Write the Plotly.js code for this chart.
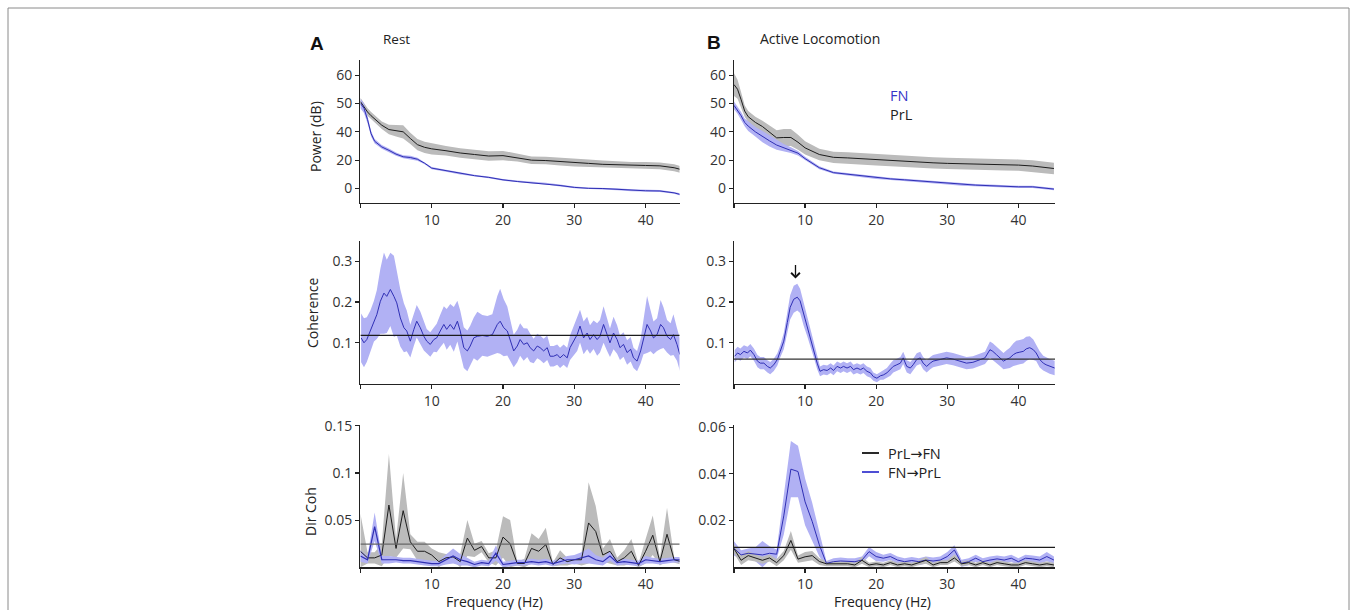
<!DOCTYPE html>
<html>
<head>
<meta charset="utf-8">
<script src="https://cdn.plot.ly/plotly-3.0.1.min.js"></script>
<style>html,body{margin:0;padding:0;background:#fff;}#chart{width:1357px;height:610px;}</style>
</head>
<body>
<div id="chart"></div>
<script>
// ---------- DATA ----------
// Power panels: values in the axis' plotted units (tick labels below are what the figure prints)
const POW_FREQ = [0,0.5,1,1.5,2,3,4,5,6,7,8,9,10,12,14,16,18,20,22,24,26,28,30,32,34,36,38,40,42,44,45];
const POW_A_PRL = [46,43,40.5,38.5,37,33.5,31.2,30.5,30,26.5,23.2,21.8,21,20,18.8,18,17.2,17.4,16.3,15,14.8,14.2,13.6,13.3,12.8,12.5,12.2,12.2,12,11,10];
const POW_A_PRL_ERR = [2,2,2,2,2,2,2.5,3,3.5,3,3,3,3,2.5,2.5,2.5,2.5,2.5,2,2,2,2,2,2,2,1.8,1.8,1.8,1.8,1.8,1.8];
const POW_A_FN = [45,42.5,36.5,29,25,22,20.2,18.2,16.8,16.4,15.5,13.4,10.8,9.4,7.9,6.8,5.9,4.6,3.7,3.1,2.6,1.6,0.6,0.1,0,-0.4,-0.9,-1.2,-1.3,-2.3,-3.3];
const POW_A_FN_ERR = [2.5,2.5,2,1.5,1.2,1,1,0.8,0.8,1,0.8,0.6,0.6,0.5,0.5,0.5,0.5,0.5,0.5,0.5,0.5,0.5,0.5,0.5,0.5,0.5,0.5,0.5,0.5,0.5,0.6];
const POW_B_PRL = [55,52.5,47,41,38,35,32.8,30,26.8,27,27,24.5,21.5,18,16.5,16.2,15.7,15.2,14.8,14.5,14.1,13.6,13.3,13.2,12.9,12.7,12.6,12.4,11.9,11,10.6];
const POW_B_PRL_ERR = [6,5,4,3,3,3,3,3.5,4,4.5,4.5,4,3.5,3,3,3,3,3,3,3,3,3,3,3,3,3,3,3,3,3,3];
const POW_B_FN = [44,41.5,38.5,35,33,30,27.5,25.2,23,21.5,20.3,18.7,15.8,11,8.4,7.6,6.5,5.7,5.1,4.6,4,3.2,2.7,2.1,1.8,1.5,1.1,0.9,0.9,0.2,-0.3];
const POW_B_FN_ERR = [2,2,2,2,2.5,2.5,3,3,2.5,2,1.5,1.2,1,0.8,0.6,0.6,0.6,0.6,0.6,0.6,0.6,0.6,0.6,0.6,0.6,0.6,0.6,0.6,0.6,0.6,0.6];
const POW_TICK_POS = [0,15,30,45,60];
const POW_TICK_TEXT = ['0','20','40','50','60'];

// Coherence, Rest
const COH_A_FREQ = [0.1,0.5,0.9,1.4,1.9,2.3,2.8,3.3,3.7,4.2,
  4.7,5.1,5.6,6.1,6.5,7.0,7.5,7.9,8.4,8.9,
  9.3,9.8,10.3,10.7,11.2,11.7,12.1,12.6,13.1,13.6,
  14.0,14.5,15.0,15.4,15.9,16.4,17.1,17.8,18.5,19.2,
  19.6,20.1,20.6,21.0,21.5,22.0,22.4,22.9,23.4,23.8,
  24.3,24.8,25.2,25.7,26.2,26.6,27.1,27.6,28.0,28.5,
  29.0,29.4,29.9,30.4,30.8,31.3,31.8,32.2,32.7,33.2,
  33.6,34.1,34.6,35.0,35.5,36.0,36.4,36.9,37.4,37.9,
  38.3,38.8,39.3,39.7,40.2,40.7,41.1,41.6,42.1,42.5,
  43.0,43.5,43.9,44.4,44.8];
const COH_A = [0.112,0.100,0.108,0.129,0.153,0.169,0.202,0.222,0.214,0.231,
  0.214,0.198,0.161,0.137,0.129,0.104,0.133,0.153,0.137,0.116,
  0.104,0.096,0.108,0.112,0.129,0.145,0.133,0.145,0.133,0.153,
  0.129,0.088,0.080,0.092,0.112,0.116,0.118,0.116,0.120,0.145,
  0.153,0.137,0.129,0.108,0.080,0.092,0.108,0.096,0.100,0.088,
  0.080,0.092,0.088,0.080,0.088,0.067,0.067,0.071,0.063,0.071,
  0.063,0.088,0.104,0.120,0.141,0.112,0.124,0.108,0.120,0.108,
  0.116,0.145,0.120,0.100,0.124,0.108,0.088,0.096,0.076,0.084,
  0.063,0.055,0.080,0.112,0.145,0.129,0.112,0.120,0.145,0.137,
  0.116,0.108,0.120,0.096,0.071];
const COH_A_ERR = [0.06,0.06,0.055,0.05,0.05,0.06,0.08,0.1,0.09,0.09,
  0.1,0.08,0.07,0.06,0.05,0.04,0.04,0.04,0.04,0.035,
  0.03,0.03,0.03,0.035,0.04,0.045,0.05,0.05,0.055,0.05,
  0.05,0.05,0.05,0.05,0.05,0.06,0.05,0.05,0.05,0.07,
  0.08,0.07,0.06,0.05,0.04,0.04,0.04,0.04,0.035,0.035,
  0.03,0.03,0.03,0.03,0.03,0.025,0.025,0.025,0.025,0.025,
  0.025,0.03,0.035,0.04,0.04,0.04,0.04,0.035,0.035,0.04,
  0.04,0.045,0.04,0.035,0.04,0.035,0.03,0.03,0.03,0.03,
  0.025,0.025,0.03,0.04,0.07,0.05,0.04,0.04,0.06,0.05,
  0.04,0.04,0.05,0.04,0.04];
const COH_A_THR = 0.118;

// Coherence, Active Locomotion
const COH_B_FREQ = [0.1,0.5,0.9,1.4,1.9,2.3,2.8,3.3,3.7,4.2,
  4.7,5.1,5.6,6.1,6.5,7.0,7.5,7.9,8.4,8.9,
  9.3,9.8,10.3,10.7,11.2,11.7,12.1,12.6,13.1,13.6,
  14.0,14.5,15.0,15.4,15.9,16.4,16.8,17.3,17.8,18.2,
  18.7,19.2,19.6,20.1,20.6,21.0,21.5,22.0,22.4,22.9,
  23.4,23.8,24.3,24.8,25.2,25.7,26.2,26.6,27.1,27.6,
  28.0,29.0,29.9,30.8,31.8,32.7,33.6,34.6,35.3,36.0,
  36.4,36.9,37.4,37.9,38.3,38.8,39.3,39.7,40.2,40.7,
  41.1,41.6,42.1,42.5,43.0,43.5,43.9,44.4,45.1];
const COH_B = [0.067,0.075,0.071,0.079,0.075,0.082,0.071,0.055,0.050,0.050,
  0.042,0.038,0.046,0.059,0.079,0.104,0.150,0.187,0.207,0.212,
  0.203,0.170,0.141,0.117,0.083,0.050,0.030,0.034,0.032,0.038,
  0.032,0.042,0.038,0.042,0.038,0.042,0.034,0.038,0.034,0.038,
  0.030,0.026,0.017,0.013,0.019,0.021,0.026,0.034,0.042,0.046,
  0.050,0.063,0.042,0.038,0.046,0.059,0.063,0.050,0.042,0.050,
  0.055,0.059,0.063,0.060,0.055,0.050,0.052,0.059,0.063,0.083,
  0.079,0.071,0.063,0.055,0.059,0.063,0.071,0.075,0.077,0.079,
  0.085,0.088,0.083,0.075,0.059,0.050,0.046,0.042,0.038];
const COH_B_ERR = [0.015,0.015,0.015,0.015,0.015,0.015,0.015,0.015,0.015,0.015,
  0.015,0.015,0.015,0.015,0.015,0.02,0.025,0.03,0.033,0.033,
  0.03,0.028,0.025,0.02,0.018,0.015,0.012,0.012,0.012,0.012,
  0.012,0.012,0.012,0.012,0.012,0.012,0.012,0.012,0.012,0.012,
  0.012,0.012,0.01,0.01,0.01,0.012,0.012,0.015,0.015,0.015,
  0.015,0.015,0.015,0.015,0.015,0.015,0.015,0.015,0.015,0.015,
  0.015,0.015,0.015,0.015,0.015,0.015,0.015,0.015,0.015,0.02,
  0.02,0.02,0.02,0.02,0.022,0.025,0.028,0.03,0.03,0.03,
  0.03,0.028,0.025,0.02,0.02,0.018,0.018,0.018,0.018];
const COH_B_THR = 0.06;

// Directed coherence (1 Hz bins)
const DIR_FREQ = [0,1,2,3,4,5,6,7,8,9,10,11,12,13,14,15,16,17,18,19,20,21,22,23,24,25,26,27,28,29,30,31,32,33,34,35,36,37,38,39,40,41,42,43,44,45];
const DIR_A_PRL_FN = [0.017,0.010,0.010,0.013,0.066,0.020,0.060,0.027,0.017,0.017,
  0.013,0.006,0.010,0.011,0.006,0.031,0.018,0.022,0.010,0.010,
  0.032,0.025,0.004,0.004,0.020,0.017,0.024,0.003,0.010,0.006,
  0.008,0.008,0.047,0.038,0.013,0.017,0.006,0.010,0.017,0.002,
  0.017,0.034,0.006,0.035,0.008,0.006];
const DIR_A_PRL_FN_ERR = [0.04,0.006,0.006,0.012,0.054,0.010,0.040,0.008,0.010,0.010,
  0.007,0.010,0.004,0.004,0.008,0.019,0.007,0.006,0.005,0.008,
  0.022,0.025,0.002,0.005,0.016,0.013,0.018,0.002,0.008,0.004,
  0.004,0.006,0.043,0.027,0.007,0.013,0.004,0.008,0.013,0.002,
  0.013,0.021,0.004,0.028,0.003,0.003];
const DIR_A_FN_PRL = [0.012,0.008,0.043,0.008,0.008,0.008,0.007,0.007,0.006,0.005,
  0.004,0.004,0.008,0.012,0.008,0.006,0.003,0.005,0.004,0.015,
  0.003,0.004,0.005,0.005,0.006,0.005,0.006,0.004,0.006,0.008,
  0.008,0.010,0.012,0.008,0.006,0.012,0.005,0.006,0.005,0.004,
  0.008,0.007,0.006,0.007,0.008,0.008];
const DIR_A_FN_PRL_ERR = [0.006,0.004,0.015,0.004,0.004,0.003,0.003,0.003,0.003,0.003,
  0.003,0.003,0.005,0.008,0.006,0.004,0.003,0.003,0.003,0.008,
  0.003,0.003,0.003,0.003,0.003,0.003,0.003,0.003,0.003,0.004,
  0.005,0.006,0.008,0.005,0.004,0.005,0.003,0.003,0.003,0.003,
  0.004,0.003,0.003,0.003,0.003,0.003];
const DIR_A_THR = 0.0245;

const DIR_B_PRL_FN = [0.008,0.003,0.005,0.004,0.003,0.004,0.002,0.005,0.0115,0.0035,
  0.0045,0.005,0.0025,0.0015,0.0015,0.0015,0.0015,0.001,0.003,0.001,
  0.0015,0.001,0.002,0.001,0.0015,0.001,0.002,0.003,0.001,0.002,
  0.002,0.004,0.0015,0.002,0.001,0.002,0.001,0.002,0.0015,0.001,
  0.001,0.002,0.0015,0.001,0.0015,0.001];
const DIR_B_PRL_FN_ERR = [0.002,0.002,0.002,0.0015,0.0015,0.0015,0.0015,0.002,0.004,0.0015,
  0.002,0.002,0.0015,0.001,0.001,0.001,0.001,0.001,0.0015,0.001,
  0.001,0.001,0.001,0.001,0.001,0.001,0.001,0.0015,0.001,0.001,
  0.001,0.0015,0.001,0.001,0.001,0.001,0.001,0.001,0.001,0.001,
  0.001,0.001,0.001,0.001,0.001,0.001];
const DIR_B_FN_PRL = [0.0081,0.0053,0.006,0.0056,0.0053,0.006,0.0056,0.022,0.042,0.041,
  0.028,0.0196,0.0096,0.0017,0.0024,0.0027,0.0024,0.0024,0.0031,0.0067,
  0.0046,0.0039,0.0046,0.0031,0.0024,0.0029,0.0024,0.0031,0.0027,0.0031,
  0.0046,0.0074,0.0017,0.0024,0.0039,0.0024,0.0031,0.0036,0.0031,0.0039,
  0.0024,0.0039,0.0036,0.0031,0.0046,0.0031];
const DIR_B_FN_PRL_ERR = [0.003,0.002,0.002,0.003,0.006,0.003,0.002,0.008,0.012,0.011,
  0.01,0.008,0.005,0.001,0.0015,0.0015,0.0015,0.0015,0.0015,0.002,
  0.002,0.0015,0.0015,0.0015,0.0015,0.0015,0.0015,0.0015,0.0015,0.0015,
  0.002,0.002,0.0015,0.0015,0.0015,0.0015,0.0015,0.0015,0.0015,0.0015,
  0.0015,0.0015,0.0015,0.0015,0.002,0.0015];
const DIR_B_THR = 0.0085;

const X_TICKS = [0,10,20,30,40];
const X_TICK_TEXT = ['','10','20','30','40'];

// ---------- STYLE ----------
const W = 1357, H = 610;
const BLUE_LINE = '#2f2fb4';
const BLACK_LINE = '#1c1c1c';
const BLUE_FILL = '#b1b1f4';
const GRAY_FILL = '#bbbbbb';
const FONT = 'Open Sans, Liberation Sans, sans-serif';
const px = v => v / W;
const py = v => 1 - v / H;

function band(x, m, e, color, xa, ya, clampZero) {
  const up = m.map((v, i) => v + e[i]);
  const lo = m.map((v, i) => clampZero ? Math.max(v - e[i], 0) : v - e[i]);
  return {x: x.concat(x.slice().reverse()), y: up.concat(lo.slice().reverse()),
    fill: 'toself', fillcolor: color, mode: 'lines', line: {width: 0},
    hoverinfo: 'skip', showlegend: false, xaxis: xa, yaxis: ya};
}
function line(x, y, color, w, xa, ya) {
  return {x: x, y: y, mode: 'lines', line: {color: color, width: w}, hoverinfo: 'skip', showlegend: false, xaxis: xa, yaxis: ya};
}
function hline(v, color, xa, ya) {
  return {x: [0, 46], y: [v, v], mode: 'lines', line: {color: color, width: 1.2}, hoverinfo: 'skip', showlegend: false, xaxis: xa, yaxis: ya};
}

const traces = [
  // A power
  band(POW_FREQ, POW_A_PRL, POW_A_PRL_ERR, GRAY_FILL, 'x', 'y', false),
  band(POW_FREQ, POW_A_FN, POW_A_FN_ERR, BLUE_FILL, 'x', 'y', false),
  line(POW_FREQ, POW_A_PRL, BLACK_LINE, 1, 'x', 'y'),
  line(POW_FREQ, POW_A_FN, BLUE_LINE, 1, 'x', 'y'),
  // B power
  band(POW_FREQ, POW_B_PRL, POW_B_PRL_ERR, GRAY_FILL, 'x2', 'y2', false),
  band(POW_FREQ, POW_B_FN, POW_B_FN_ERR, BLUE_FILL, 'x2', 'y2', false),
  line(POW_FREQ, POW_B_PRL, BLACK_LINE, 1, 'x2', 'y2'),
  line(POW_FREQ, POW_B_FN, BLUE_LINE, 1, 'x2', 'y2'),
  // A coherence
  band(COH_A_FREQ, COH_A, COH_A_ERR, BLUE_FILL, 'x3', 'y3', true),
  line(COH_A_FREQ, COH_A, BLUE_LINE, 1, 'x3', 'y3'),
  hline(COH_A_THR, BLACK_LINE, 'x3', 'y3'),
  // B coherence
  band(COH_B_FREQ, COH_B, COH_B_ERR, BLUE_FILL, 'x4', 'y4', true),
  line(COH_B_FREQ, COH_B, BLUE_LINE, 1, 'x4', 'y4'),
  hline(COH_B_THR, '#333', 'x4', 'y4'),
  // A directed coherence
  band(DIR_FREQ, DIR_A_PRL_FN, DIR_A_PRL_FN_ERR, GRAY_FILL, 'x5', 'y5', true),
  band(DIR_FREQ, DIR_A_FN_PRL, DIR_A_FN_PRL_ERR, BLUE_FILL, 'x5', 'y5', true),
  line(DIR_FREQ, DIR_A_PRL_FN, BLACK_LINE, 1, 'x5', 'y5'),
  line(DIR_FREQ, DIR_A_FN_PRL, BLUE_LINE, 1.2, 'x5', 'y5'),
  hline(DIR_A_THR, '#666', 'x5', 'y5'),
  // B directed coherence
  band(DIR_FREQ, DIR_B_FN_PRL, DIR_B_FN_PRL_ERR, BLUE_FILL, 'x6', 'y6', true),
  band(DIR_FREQ, DIR_B_PRL_FN, DIR_B_PRL_FN_ERR, GRAY_FILL, 'x6', 'y6', true),
  line(DIR_FREQ, DIR_B_FN_PRL, BLUE_LINE, 1, 'x6', 'y6'),
  line(DIR_FREQ, DIR_B_PRL_FN, BLACK_LINE, 1, 'x6', 'y6'),
  hline(DIR_B_THR, BLACK_LINE, 'x6', 'y6')
];

const tickfont = {family: FONT, size: 14, color: '#333'};
function xax(dom, range, anchor) {
  return {domain: dom, range: range, anchor: anchor, showline: true, linecolor: '#222', linewidth: 1.3,
    ticks: 'outside', ticklen: 4, tickcolor: '#222', tickwidth: 1.2, tickvals: X_TICKS, ticktext: X_TICK_TEXT,
    showgrid: false, zeroline: false, tickfont: tickfont, fixedrange: true};
}
function yax(dom, range, anchor, tv, tt) {
  return {domain: dom, range: range, anchor: anchor, showline: true, linecolor: '#222', linewidth: 1.3,
    ticks: 'outside', ticklen: 4, tickcolor: '#222', tickwidth: 1.2, tickvals: tv, ticktext: tt,
    showgrid: false, zeroline: false, tickfont: tickfont, fixedrange: true};
}
const XA = [px(360.4), px(679.5)], XB = [px(734), px(1055)];
const YP = [py(202.7), py(60)], YC = [py(383.5), py(241)], YD = [py(567.3), py(425)];

const ann = (x, y, text, o) => Object.assign({xref: 'paper', yref: 'paper', x: px(x), y: py(y), text: text,
  showarrow: false, xanchor: 'center', yanchor: 'middle', font: {family: FONT, size: 14, color: '#222'}}, o || {});
const ARROW = '<span style="font-family:DejaVu Sans">→</span>';

const annotations = [
  ann(316.5, 43, '<b>A</b>', {font: {family: 'Liberation Sans, Arial, sans-serif', size: 19, color: '#111'}}),
  ann(396, 39, 'Rest', {font: {family: FONT, size: 13.5, color: '#222'}}),
  ann(713.5, 42.5, '<b>B</b>', {font: {family: 'Liberation Sans, Arial, sans-serif', size: 19, color: '#111'}}),
  ann(820.5, 38, 'Active Locomotion', {font: {family: FONT, size: 14, color: '#222'}}),
  ann(899, 95, 'FN', {font: {family: FONT, size: 14.5, color: '#3535c8'}}),
  ann(901.5, 114.5, 'PrL', {font: {family: FONT, size: 14.5, color: '#222'}}),
  ann(315, 137, 'Power (dB)', {textangle: -90}),
  ann(313, 313, 'Coherence', {textangle: -90}),
  ann(310, 512, 'Dir Coh', {textangle: -90}),
  ann(494.7, 601, 'Frequency (Hz)'),
  ann(882.7, 601, 'Frequency (Hz)'),
  ann(886, 453, 'PrL' + ARROW + 'FN', {xanchor: 'left', font: {family: FONT, size: 14.5, color: '#222'}}),
  ann(886, 472, 'FN' + ARROW + 'PrL', {xanchor: 'left', font: {family: FONT, size: 14.5, color: '#222'}}),
  {xref: 'x4', yref: 'y4', x: 8.65, y: 0.258, ax: 0, ay: -15, text: '', showarrow: true,
   arrowhead: 4, arrowsize: 1.3, arrowwidth: 1.3, arrowcolor: '#111', standoff: 0}
];

const shapes = [
  {type: 'rect', xref: 'paper', yref: 'paper', x0: px(8), x1: px(1349), y0: -0.1, y1: py(8),
   line: {color: '#8a8a8a', width: 1}, fillcolor: 'rgba(0,0,0,0)', layer: 'below'},
  {type: 'line', xref: 'paper', yref: 'paper', x0: px(862), x1: px(879), y0: py(453), y1: py(453),
   line: {color: '#111', width: 1.8}},
  {type: 'line', xref: 'paper', yref: 'paper', x0: px(862), x1: px(879), y0: py(472), y1: py(472),
   line: {color: '#3a3ad0', width: 1.8}}
];

const layout = {
  width: W, height: H, margin: {l: 0, r: 0, t: 0, b: 0},
  paper_bgcolor: '#fff', plot_bgcolor: 'rgba(0,0,0,0)', showlegend: false,
  font: {family: FONT, color: '#222'},
  xaxis: xax(XA, [0, 44.75], 'y'),
  yaxis: yax(YP, [-7.5, 68], 'x', POW_TICK_POS, POW_TICK_TEXT),
  xaxis2: xax(XB, [0, 45.15], 'y2'),
  yaxis2: yax(YP, [-7.5, 68], 'x2', POW_TICK_POS, POW_TICK_TEXT),
  xaxis3: xax(XA, [0, 44.75], 'y3'),
  yaxis3: yax(YC, [0, 0.35], 'x3', [0.1, 0.2, 0.3], ['0.1', '0.2', '0.3']),
  xaxis4: xax(XB, [0, 45.15], 'y4'),
  yaxis4: yax(YC, [0, 0.35], 'x4', [0.1, 0.2, 0.3], ['0.1', '0.2', '0.3']),
  xaxis5: xax(XA, [0, 44.75], 'y5'),
  yaxis5: yax(YD, [0, 0.1508], 'x5', [0.05, 0.1, 0.15], ['0.05', '0.1', '0.15']),
  xaxis6: xax(XB, [0, 45.15], 'y6'),
  yaxis6: yax(YD, [0, 0.0609], 'x6', [0.02, 0.04, 0.06], ['0.02', '0.04', '0.06']),
  annotations: annotations,
  shapes: shapes
};

Plotly.newPlot('chart', traces, layout, {staticPlot: true, displayModeBar: false});
</script>
</body>
</html>
